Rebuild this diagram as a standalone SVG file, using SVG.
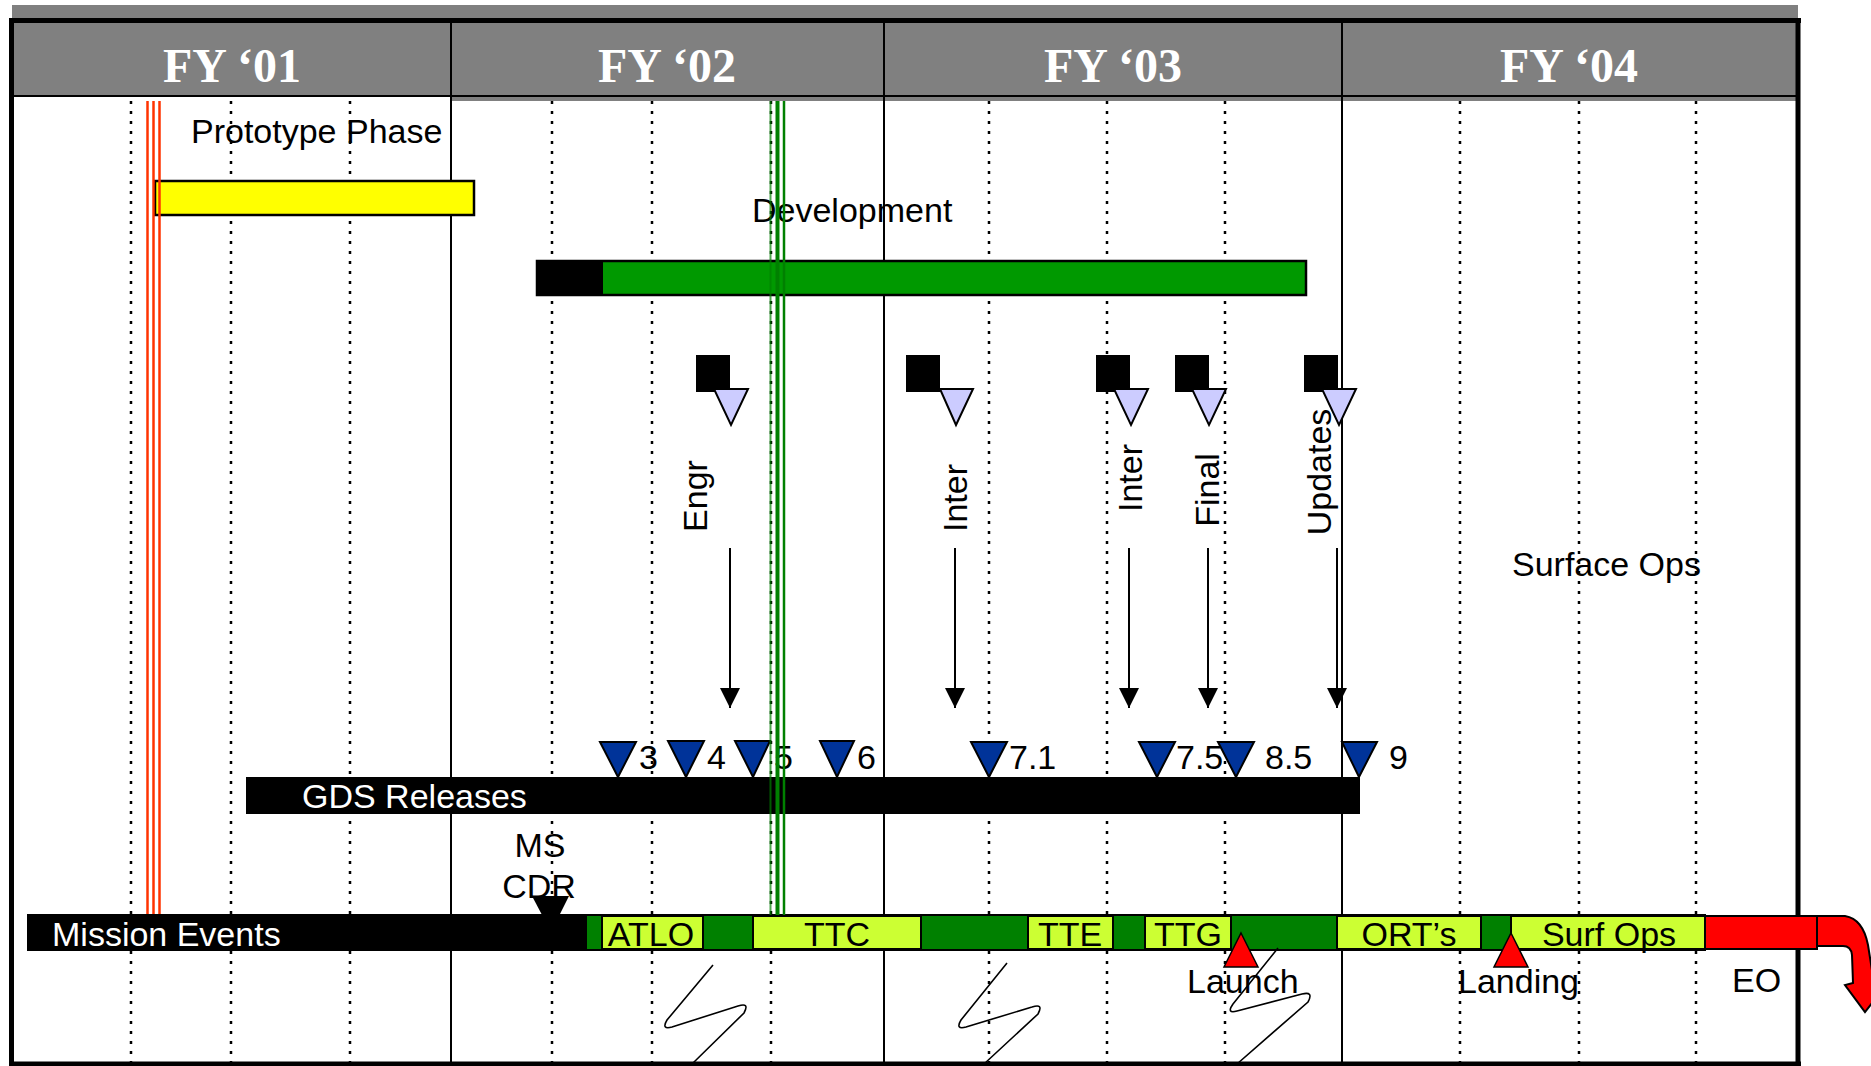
<svg xmlns="http://www.w3.org/2000/svg" width="1871" height="1066" viewBox="0 0 1871 1066">
<style>
.hdr{font-family:"Liberation Serif","Times New Roman",serif;font-weight:bold;font-size:48px;fill:#fff;text-anchor:middle}
.t{font-family:"Liberation Sans",Arial,sans-serif;font-size:34px;fill:#000}
.w{fill:#fff}
.mid{text-anchor:middle}
.dot{stroke:#000;stroke-width:2.5;stroke-dasharray:3 7;fill:none}
.sep{stroke:#000;stroke-width:2;fill:none}
.box{fill:#CCFF33;stroke:#000;stroke-width:2}
.rel{fill:#003399;stroke:#000;stroke-width:2}
.sq{fill:#000}
.lt{fill:#CCCCFF;stroke:#000;stroke-width:2}
.arr{stroke:#000;stroke-width:2;fill:none}
.zz{stroke:#000;stroke-width:1.6;fill:none}
.red{stroke:#FF3300;stroke-width:2.5}
.grn{stroke:#008000}
</style>
<defs>
<marker id="ah" markerUnits="userSpaceOnUse" markerWidth="20" markerHeight="20" viewBox="0 0 20 20" refX="20" refY="10" orient="auto">
<path d="M0,0 L20,10 L0,20 Z" fill="#000"/>
</marker>
</defs>
<rect x="0" y="0" width="1871" height="1066" fill="#fff"/>
<g id="header">
<rect x="12" y="5" width="1786" height="14" fill="#808080"/>
<rect x="13" y="21" width="1784" height="76" fill="#808080"/>
<rect x="451" y="97" width="1346" height="4" fill="#808080"/>
<line x1="13" y1="96" x2="1797" y2="96" class="sep"/>
<line x1="9" y1="20.5" x2="1801" y2="20.5" stroke="#000" stroke-width="5"/>
<text class="hdr" x="232" y="82">FY ‘01</text>
<text class="hdr" x="667" y="82">FY ‘02</text>
<text class="hdr" x="1113" y="82">FY ‘03</text>
<text class="hdr" x="1569" y="82">FY ‘04</text>
</g>
<g id="grid">
<line class="dot" x1="131" y1="101" x2="131" y2="1062"/>
<line class="dot" x1="231" y1="101" x2="231" y2="1062"/>
<line class="dot" x1="350" y1="101" x2="350" y2="1062"/>
<line class="dot" x1="552" y1="101" x2="552" y2="1062"/>
<line class="dot" x1="652" y1="101" x2="652" y2="1062"/>
<line class="dot" x1="771" y1="101" x2="771" y2="1062"/>
<line class="dot" x1="989" y1="101" x2="989" y2="1062"/>
<line class="dot" x1="1107" y1="101" x2="1107" y2="1062"/>
<line class="dot" x1="1225" y1="101" x2="1225" y2="1062"/>
<line class="dot" x1="1460" y1="101" x2="1460" y2="1062"/>
<line class="dot" x1="1579" y1="101" x2="1579" y2="1062"/>
<line class="dot" x1="1696" y1="101" x2="1696" y2="1062"/>
<line class="sep" x1="451" y1="21" x2="451" y2="1062"/>
<line class="sep" x1="884" y1="21" x2="884" y2="1062"/>
<line class="sep" x1="1342" y1="21" x2="1342" y2="1062"/>
<line x1="11.5" y1="18" x2="11.5" y2="1066" stroke="#000" stroke-width="5"/>
<line x1="1798" y1="18" x2="1798" y2="1066" stroke="#000" stroke-width="5"/>
<line x1="9" y1="1064" x2="1801" y2="1064" stroke="#000" stroke-width="5"/>
</g>
<g id="prototype">
<text class="t" x="191" y="143">Prototype Phase</text>
<rect x="155" y="181" width="319" height="34" fill="#FFFF00" stroke="#000" stroke-width="2.5"/>
</g>
<g id="development">
<text class="t" x="752" y="222">Development</text>
<rect x="537" y="261" width="769" height="34" fill="#009900" stroke="#000" stroke-width="2.5"/>
<rect x="537" y="261" width="66" height="34" fill="#000"/>
</g>
<g id="doc-engr">
<rect class="sq" x="696" y="355" width="34" height="37"/>
<polygon class="lt" points="714,389 748,389 731,425"/>
<text class="t mid" transform="translate(707 496) rotate(-90)">Engr</text>
</g>
<g id="doc-inter1">
<rect class="sq" x="906" y="355" width="34" height="37"/>
<polygon class="lt" points="940,389 973,389 956,425"/>
<text class="t mid" transform="translate(967 498) rotate(-90)">Inter</text>
</g>
<g id="doc-inter2">
<rect class="sq" x="1096" y="355" width="34" height="37"/>
<polygon class="lt" points="1114,389 1148,389 1131,425"/>
<text class="t mid" transform="translate(1142 478) rotate(-90)">Inter</text>
</g>
<g id="doc-final">
<rect class="sq" x="1175" y="355" width="34" height="37"/>
<polygon class="lt" points="1192,389 1226,389 1209,425"/>
<text class="t mid" transform="translate(1219 490) rotate(-90)">Final</text>
</g>
<g id="doc-updates">
<rect class="sq" x="1304" y="355" width="34" height="37"/>
<polygon class="lt" points="1322,389 1356,389 1339,425"/>
<text class="t mid" transform="translate(1331 472) rotate(-90)">Updates</text>
</g>
<g id="surface-ops">
<text class="t" x="1512" y="576">Surface Ops</text>
</g>
<g id="gds-releases">
<rect x="246" y="777" width="1114" height="37" fill="#000"/>
<text class="t w" x="302" y="808">GDS Releases</text>
<text class="t" x="639" y="769">3</text>
<text class="t" x="707" y="769">4</text>
<text class="t" x="774" y="769">5</text>
<text class="t" x="857" y="769">6</text>
<text class="t" x="1009" y="769">7.1</text>
<text class="t" x="1176" y="769">7.5</text>
<text class="t" x="1265" y="769">8.5</text>
<text class="t" x="1389" y="769">9</text>
<polygon class="rel" points="600,742 636,742 618,777"/>
<polygon class="rel" points="668,741 704,741 686,777"/>
<polygon class="rel" points="735,741 770,741 753,777"/>
<polygon class="rel" points="820,741 854,741 837,777"/>
<polygon class="rel" points="971,742 1007,742 989,777"/>
<polygon class="rel" points="1139,742 1175,742 1157,777"/>
<polygon class="rel" points="1218,742 1254,742 1236,777"/>
<polygon class="rel" points="1342,742 1377,742 1359,777"/>
</g>
<g id="ms-cdr">
<text class="t mid" x="540" y="857">MS</text>
<text class="t mid" x="539" y="898">CDR</text>
</g>
<g id="mission-events">
<rect x="27" y="914" width="560" height="37" fill="#000"/>
<rect x="586" y="915" width="1119" height="35" fill="#008000" stroke="#000" stroke-width="2"/>
<rect class="box" x="602" y="916" width="101" height="33"/>
<rect class="box" x="753" y="916" width="168" height="33"/>
<rect class="box" x="1028" y="916" width="85" height="33"/>
<rect class="box" x="1145" y="916" width="86" height="33"/>
<rect class="box" x="1337" y="916" width="144" height="33"/>
<rect class="box" x="1511" y="916" width="194" height="33"/>
<rect x="1705" y="916" width="112" height="33" fill="#FF0000" stroke="#000" stroke-width="2"/>
<path d="M1817,916 L1845,916 Q1863,919 1868,945 L1874,983 L1886,985 L1865,1012 L1845,985 L1853,983 L1852,955 Q1851,946 1843,946 L1817,946 Z" fill="#FF0000" stroke="#000" stroke-width="2"/>
<polygon points="532,896 569,896 551,932" fill="#000"/>
<text class="t w" x="52" y="946">Mission Events</text>
<text class="t mid" x="651" y="946">ATLO</text>
<text class="t mid" x="837" y="946">TTC</text>
<text class="t mid" x="1070" y="946">TTE</text>
<text class="t mid" x="1188" y="946">TTG</text>
<text class="t mid" x="1409" y="946">ORT’s</text>
<text class="t mid" x="1609" y="946">Surf Ops</text>
</g>
<g id="launch">
<polygon points="1241,933 1258,967 1224,967" fill="#FF0000" stroke="#000" stroke-width="1.5"/>
<text class="t" x="1187" y="993">Launch</text>
</g>
<g id="landing">
<polygon points="1511,933 1528,967 1494,967" fill="#FF0000" stroke="#000" stroke-width="1.5"/>
<text class="t" x="1458" y="993">Landing</text>
</g>
<g id="eo">
<text class="t" x="1732" y="992">EO</text>
</g>
<g id="breaks">
<path class="zz" d="M713,965 L667,1020 Q661,1030 672,1027 L738,1006 Q750,1002 744,1013 L692,1064"/>
<path class="zz" d="M1007,963 L961,1020 Q955,1030 966,1027 L1032,1007 Q1044,1003 1038,1014 L984,1064"/>
<path class="zz" d="M1278,948 L1233,1004 Q1226,1014 1237,1011 L1302,994 Q1314,991 1308,1002 L1237,1064"/>
</g>
<g id="connectors">
<line class="arr" x1="730" y1="548" x2="730" y2="708" marker-end="url(#ah)"/>
<line class="arr" x1="955" y1="548" x2="955" y2="708" marker-end="url(#ah)"/>
<line class="arr" x1="1129" y1="548" x2="1129" y2="708" marker-end="url(#ah)"/>
<line class="arr" x1="1208" y1="548" x2="1208" y2="708" marker-end="url(#ah)"/>
<line class="arr" x1="1337" y1="548" x2="1337" y2="708" marker-end="url(#ah)"/>
</g>
<g id="markers">
<line class="red" x1="147.5" y1="101" x2="147.5" y2="914"/>
<line class="red" x1="153.5" y1="101" x2="153.5" y2="914"/>
<line class="red" x1="159.5" y1="101" x2="159.5" y2="914"/>
<line class="grn" x1="770.5" y1="101" x2="770.5" y2="915" stroke-width="2" stroke-opacity="0.7"/>
<line class="grn" x1="777.5" y1="101" x2="777.5" y2="915" stroke-width="4"/>
<line class="grn" x1="784" y1="101" x2="784" y2="915" stroke-width="2.5"/>
</g>
</svg>
